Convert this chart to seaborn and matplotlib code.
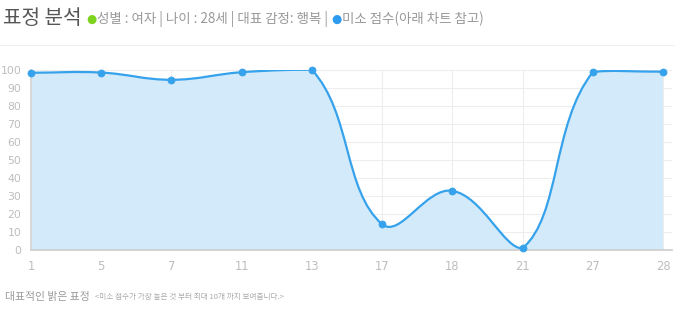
import numpy as np
import matplotlib
matplotlib.use("Agg")
import matplotlib.pyplot as plt
import seaborn as sns
from matplotlib.path import Path
from matplotlib.patches import PathPatch

# ---- data ----
ages = ["1", "5", "7", "11", "13", "17", "18", "21", "27", "28"]
smile_scores = [98.2, 98.3, 94.3, 98.5, 99.8, 14.3, 32.8, 1.0, 98.5, 98.8]
y_ticks = [0, 10, 20, 30, 40, 50, 60, 70, 80, 90, 100]

title_main = "표정 분석"
title_part1 = "성별 : 여자 | 나이 : 28세 | 대표 감정: 행복 | "
title_part2 = "미소 점수(아래 차트 참고)"
footer_main = "대표적인 밝은 표정"
footer_note = "<미소 점수가 가장 높은 것 부터 최대 10개 까지 보여줍니다.>"

sns.set_theme(style="white")
plt.rcParams['font.family'] = ['Noto Sans CJK KR', 'DejaVu Sans']

W, H = 675, 310
fig = plt.figure(figsize=(W / 100, H / 100), dpi=100)
x0, x1 = 31, 672
y_top, y_bot = 69.5, 250
ax = fig.add_axes([x0 / W, 1 - y_bot / H, (x1 - x0) / W, (y_bot - y_top) / H])

xs = np.arange(len(ages))
step_px = (663 - 31) / 9
ax.set_xlim(0, (x1 - x0) / step_px)
ax.set_ylim(0, 100)

line_col = "#36a2eb"
fill_col = "#d3eafb"

# Chart.js-like bezier spline (tension 0.4), computed in pixel space
px = xs * step_px
py = np.array(smile_scores) * (y_bot - y_top) / 100.0
t = 0.4
n = len(xs)
cp_prev = []
cp_next = []
for i in range(n):
    p0 = np.array([px[max(i - 1, 0)], py[max(i - 1, 0)]])
    p1 = np.array([px[i], py[i]])
    p2 = np.array([px[min(i + 1, n - 1)], py[min(i + 1, n - 1)]])
    d01 = np.hypot(*(p1 - p0))
    d12 = np.hypot(*(p2 - p1))
    tot = d01 + d12
    s01 = d01 / tot if tot else 0
    s12 = d12 / tot if tot else 0
    fa, fb = t * s01, t * s12
    cp_prev.append(p1 - fa * (p2 - p0))
    cp_next.append(p1 + fb * (p2 - p0))

def to_data(p):
    return (p[0] / step_px, p[1] * 100.0 / (y_bot - y_top))

verts = [to_data((px[0], py[0]))]
codes = [Path.MOVETO]
for i in range(n - 1):
    c1 = to_data(cp_next[i])
    c2 = to_data(cp_prev[i + 1])
    c1 = (c1[0], min(max(c1[1], 0), 100))
    c2 = (c2[0], min(max(c2[1], 0), 100))
    verts += [c1, c2, to_data((px[i + 1], py[i + 1]))]
    codes += [Path.CURVE4] * 3

fill_verts = verts + [(xs[-1], 0), (0, 0), verts[0]]
fill_codes = codes + [Path.LINETO, Path.LINETO, Path.CLOSEPOLY]
ax.add_patch(PathPatch(Path(fill_verts, fill_codes), facecolor=fill_col,
                       edgecolor="none", zorder=1))
ax.add_patch(PathPatch(Path(verts, codes), facecolor="none",
                       edgecolor=line_col, lw=1.6, zorder=3))

sns.scatterplot(x=xs, y=smile_scores, ax=ax, color=line_col, s=26,
                edgecolor=line_col, linewidth=0.5, zorder=4, legend=False,
                clip_on=False)

ax.set_xticks(xs)
ax.set_xticklabels(ages)
ax.set_yticks(y_ticks)
ax.set_yticklabels([str(v) for v in y_ticks])
ax.grid(True, color="#ededed", lw=0.8)
ax.set_axisbelow(True)
for s in ["top", "right"]:
    ax.spines[s].set_visible(False)
ax.spines["left"].set_color("#d6d6d6")
ax.spines["bottom"].set_color("#cfcfcf")
ax.tick_params(axis="both", colors="#d0d0d0", labelcolor="#bdbdbd",
               labelsize=7.8, length=4, width=0.8, pad=2)
ax.tick_params(axis="y", length=5, pad=2)
ax.tick_params(axis="x", pad=3, labelsize=8.3)
for lab in ax.get_xticklabels() + ax.get_yticklabels():
    lab.set_family(['DejaVu Sans'])
ax.set_xlabel("")
ax.set_ylabel("")

# header
fig.canvas.draw()
renderer = fig.canvas.get_renderer()

def place(x, y, s, **kw):
    tx = fig.text(x / W, 1 - y / H, s, va="center", ha="left", **kw)
    bb = tx.get_window_extent(renderer)
    return bb.x1

xe = place(3, 18, title_main, fontsize=14.5, color="#555555")
xe = place(xe + 5, 19, "●", fontsize=8.5, color="#7ed321", family=['DejaVu Sans'])
xe = place(xe + 0.5, 19, title_part1, fontsize=9.7, color="#999999")
xe = place(xe + 0.5, 19, "●", fontsize=8.5, color="#2c9bf0", family=['DejaVu Sans'])
xe = place(xe + 0.5, 19, title_part2, fontsize=9.7, color="#999999")

fig.add_artist(plt.Line2D([0, 1], [1 - 45 / H, 1 - 45 / H], color="#f0f0f0",
                          lw=0.8, transform=fig.transFigure))

# footer
xe = place(5, 297, footer_main, fontsize=7.8, color="#999999")
place(xe + 5, 297, footer_note, fontsize=5.5, color="#aaaaaa")

fig.savefig("out.png", dpi=100, facecolor="white")
